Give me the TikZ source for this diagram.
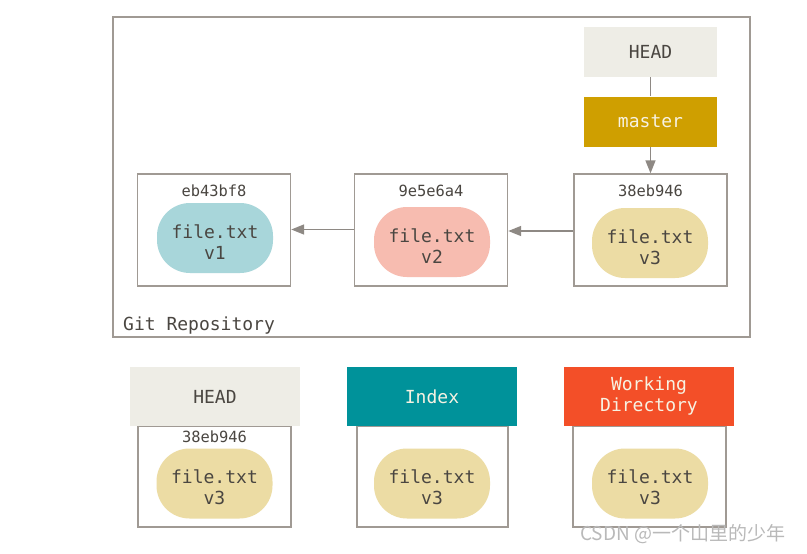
\documentclass[tikz,border=0pt]{standalone}
\usepackage{fontspec}
\setmonofont{DejaVu Sans Mono}
\newfontfamily\cjk{Noto Sans CJK SC}
\usetikzlibrary{arrows.meta}
\definecolor{boxgray}{HTML}{A09A94}
\definecolor{arrgray}{HTML}{8E8984}
\definecolor{txt}{HTML}{4A4641}
\definecolor{headbg}{HTML}{EEEDE6}
\definecolor{masterbg}{HTML}{CF9F00}
\definecolor{indexbg}{HTML}{00929A}
\definecolor{wdbg}{HTML}{F34F28}
\definecolor{blobA}{HTML}{A8D6DA}
\definecolor{blobB}{HTML}{F7BCB0}
\definecolor{blobC}{HTML}{ECDCA4}
\definecolor{lighttxt}{HTML}{F7F2E2}
\tikzset{
  frame/.style={draw=boxgray, line width=1.4pt, inner sep=0pt},
  commitbox/.style={frame, minimum width=153pt, minimum height=112pt},
  blob/.style={rounded corners=33pt, minimum width=116pt, minimum height=70pt, inner sep=0pt},
  blobtxt/.style={align=center, inner sep=0pt, text=txt, font=\ttfamily\fontsize{18}{21}\selectfont},
  hashlbl/.style={text=txt, font=\ttfamily\fontsize{15.4}{17}\selectfont, inner sep=0pt},
  refbox/.style={minimum width=133pt, minimum height=50pt, inner sep=0pt, font=\ttfamily\fontsize{18}{21}\selectfont},
  hdrbox/.style={minimum width=170pt, minimum height=59pt, inner sep=0pt, align=center, font=\ttfamily\fontsize{18}{21}\selectfont},
  conn/.style={draw=arrgray, line width=1.4pt},
  arr/.style={conn, -{Triangle[width=10pt,length=13pt]}},
}
\begin{document}
\begin{tikzpicture}[x=1pt,y=-1pt]
\useasboundingbox (0,0) rectangle (807,554);
\fill[white] (0,0) rectangle (807,554);

% repository frame
\node[frame, minimum width=637pt, minimum height=320pt] (repo) at (431.5,177) {};
\node[anchor=base west, text=txt, inner sep=0pt, font=\ttfamily\fontsize{18}{21}\selectfont] (repolbl) at (123,330) {Git Repository};

% HEAD and master
\node[refbox, fill=headbg, text=txt] (head) at (650.5,52) {HEAD};
\node[refbox, fill=masterbg, text=lighttxt] (master) at (650.5,121.5) {master};

% commits
\node[commitbox] (c1) at (214,230) {};
\node[commitbox] (c2) at (431,230) {};
\node[commitbox] (c3) at (650.5,230) {};
\node[hashlbl] (h1) at (214,191) {eb43bf8};
\node[hashlbl] (h2) at (431,191) {9e5e6a4};
\node[hashlbl] (h3) at (650.5,191) {38eb946};
\node[blob, fill=blobA] (b1) at (215,238) {};
\node[blob, fill=blobB] (b2) at (432,242) {};
\node[blob, fill=blobC] (b3) at (650,243) {};
\node[blobtxt] (t1) at ([yshift=-4pt]b1.center) {file.txt\\v1};
\node[blobtxt] (t2) at ([yshift=-4pt]b2.center) {file.txt\\v2};
\node[blobtxt] (t3) at ([yshift=-4pt]b3.center) {file.txt\\v3};

% connectors
\draw[conn] (head.south) -- (master.north);
\draw[arr] (master.south) -- (c3.north);
\draw[arr] (c2.west |- 0,229.5) -- (c1.east |- 0,229.5);
\draw[arr] (c3.west |- 0,231) -- (c2.east |- 0,231);

% bottom trees
\node[frame, minimum width=153pt, minimum height=101pt] (a1) at (214.5,476.5) {};
\node[frame, minimum width=151pt, minimum height=101pt] (a2) at (432.5,476.5) {};
\node[frame, minimum width=153pt, minimum height=101pt] (a3) at (649.5,476.5) {};
\node[hdrbox, fill=headbg, text=txt] (hh) at (215,396.5) {HEAD};
\node[hdrbox, fill=indexbg, text=lighttxt] (hi) at (432,396.5) {Index};
\node[hdrbox, fill=wdbg, text=lighttxt] (hw) at (649,396.5) {Working\\Directory};
\node[hashlbl] (h4) at (214.5,437) {38eb946};
\node[blob, fill=blobC] (b4) at (214.5,483.5) {};
\node[blob, fill=blobC] (b5) at (432,483.5) {};
\node[blob, fill=blobC] (b6) at (650,483.5) {};
\node[blobtxt] (t4) at ([yshift=-4pt]b4.center) {file.txt\\v3};
\node[blobtxt] (t5) at ([yshift=-4pt]b5.center) {file.txt\\v3};
\node[blobtxt] (t6) at ([yshift=-4pt]b6.center) {file.txt\\v3};

% watermark
\node[anchor=base west, inner sep=0pt, text=gray!55, font=\cjk\fontsize{19}{21}\selectfont] (wm) at (580,540) {CSDN @一个山里的少年};
\end{tikzpicture}
\end{document}
